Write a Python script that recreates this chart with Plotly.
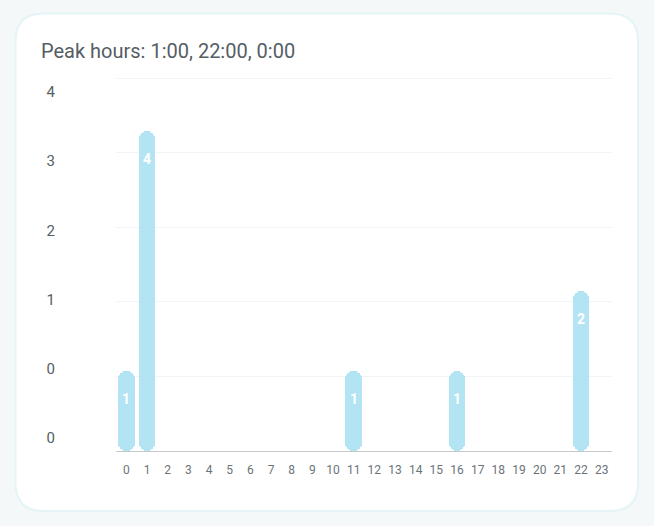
import plotly.graph_objects as go

hours = list(range(24))
counts = [1, 4, 0, 0, 0, 0, 0, 0, 0, 0, 0, 1, 0, 0, 0, 0, 1, 0, 0, 0, 0, 0, 2, 0]
y_tick_labels = ["0", "0", "1", "2", "3", "4"]
title_text = "Peak hours: 1:00, 22:00, 0:00"

W, H = 654, 526
L, R, T, B = 116, 42, 72, 75
PW, PH = W - L - R, H - T - B

def px(x):
    return (x - L) / PW

def py(y):
    return (H - B - y) / PH

BAR_COLOR = "#b3e4f4"
fig = go.Figure()
# lower part (rounded at the bottom) and upper part (rounded at the top) of each bar
fig.add_trace(go.Bar(
    x=hours, y=[-c * 0.6 for c in counts], base=[c * 0.6 for c in counts], width=0.82,
    marker=dict(color=BAR_COLOR, cornerradius=8, line=dict(width=0)), hoverinfo="skip",
))
fig.add_trace(go.Bar(
    x=hours, y=[c * 0.6 for c in counts], base=[c * 0.4 for c in counts], width=0.82,
    marker=dict(color=BAR_COLOR, cornerradius=8, line=dict(width=0)), hoverinfo="skip",
))
fig.add_trace(go.Scatter(x=[0], y=[0], yaxis="y2", mode="markers",
                         marker=dict(opacity=0), hoverinfo="skip", showlegend=False))

for h, c in zip(hours, counts):
    if c > 0:
        fig.add_annotation(x=h, y=c, xref="x", yref="y", text=str(c), showarrow=False,
                           yshift=-28, yanchor="middle",
                           font=dict(family="Roboto", size=14, color="white", weight="bold"))

x0, x1, y0, y1, r = 15.5, 638, 13.5, 511, 28
path = (f"M {px(x0+r)} {py(y0)} L {px(x1-r)} {py(y0)} "
        f"Q {px(x1)} {py(y0)} {px(x1)} {py(y0+r)} L {px(x1)} {py(y1-r)} "
        f"Q {px(x1)} {py(y1)} {px(x1-r)} {py(y1)} L {px(x0+r)} {py(y1)} "
        f"Q {px(x0)} {py(y1)} {px(x0)} {py(y1-r)} L {px(x0)} {py(y0+r)} "
        f"Q {px(x0)} {py(y0)} {px(x0+r)} {py(y0)} Z")
fig.add_shape(type="path", path=path, xref="paper", yref="paper",
              fillcolor="white", line=dict(color="#e4f4f7", width=2), layer="below")

fig.add_annotation(x=px(39), y=py(51), xref="paper", yref="paper", text=title_text,
                   showarrow=False, xanchor="left", yanchor="middle",
                   font=dict(family="Roboto", size=20, color="#555e64"))

step = 0.932
scale = 373 / (5 * step)  # px per unit
fig.update_layout(
    width=W, height=H,
    margin=dict(l=L, r=R, t=T, b=B),
    paper_bgcolor="#f4f8f8", plot_bgcolor="rgba(0,0,0,0)",
    showlegend=False, bargap=0, barmode="overlay",
    font=dict(family="Roboto"),
    xaxis=dict(range=[-0.5, 23.5], tickmode="array", tickvals=hours,
               ticktext=[str(h) for h in hours], showgrid=False, zeroline=False,
               showline=True, linecolor="#c6c8ca", linewidth=1, ticks="",
               ticklabelstandoff=8, tickfont=dict(size=12, color="#6b7379")),
    yaxis=dict(range=[0, PH / scale], tickmode="array", tickvals=[i * step for i in range(6)],
               showticklabels=False, showgrid=True, gridcolor="#f1f4f5", gridwidth=1,
               zeroline=False, ticks=""),
    yaxis2=dict(overlaying="y", side="left", range=[-13 / 69.2, (438 - T) / 69.2],
                tickmode="array", tickvals=list(range(6)), ticktext=y_tick_labels,
                showgrid=False, zeroline=False, showline=False, ticks="",
                ticklabelstandoff=60, tickfont=dict(size=15, color="#555e64")),
)

fig.write_html("out.html", config={"displayModeBar": False},
               post_script="document.body.style.margin='0';")
